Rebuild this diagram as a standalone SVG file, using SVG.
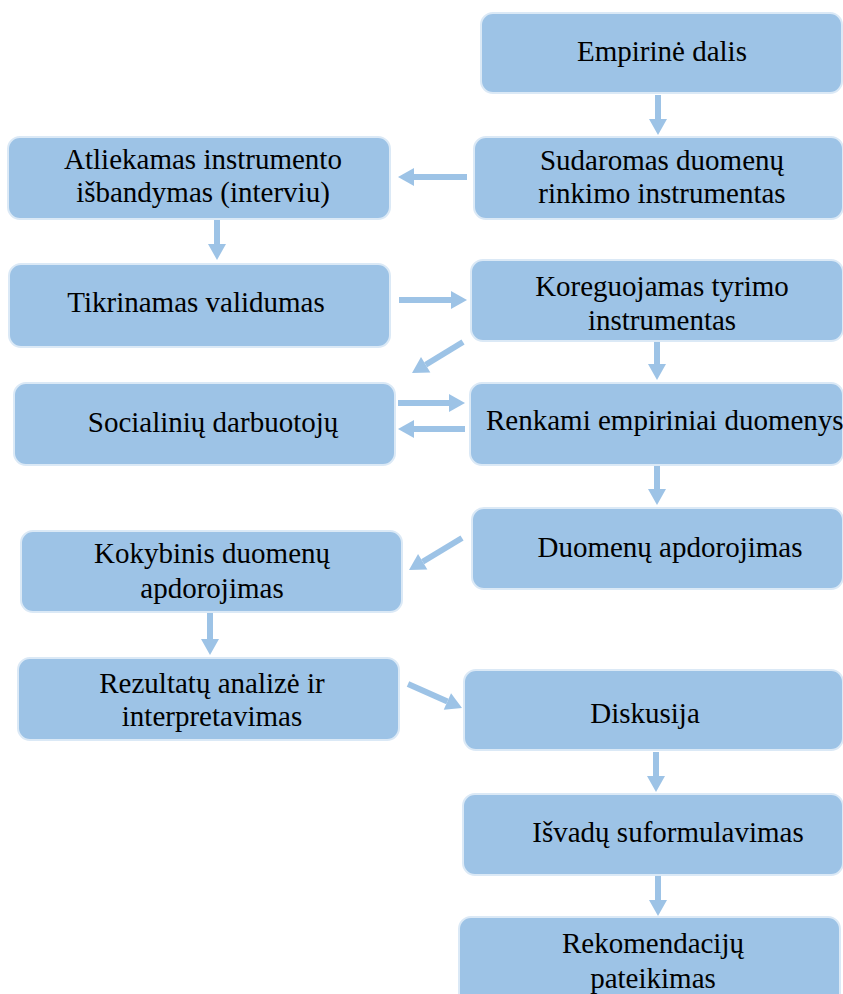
<svg xmlns="http://www.w3.org/2000/svg" width="843" height="994" viewBox="0 0 843 994">
  <style>
    .box { fill: #9dc3e6; stroke: #dbe9f6; stroke-width: 2; }
    .lbl { font-family: "Liberation Serif", "Times New Roman", serif; font-size: 29px; fill: #000; text-anchor: middle; }
    .start { text-anchor: start; }
    .conn { stroke: #9dc3e6; stroke-width: 6; fill: none; marker-end: url(#head); }
  </style>
  <defs>
    <marker id="head" markerUnits="userSpaceOnUse" markerWidth="17" markerHeight="18" refX="0" refY="9" orient="auto" overflow="visible">
      <path d="M0,0 L16,9 L0,18 Z" fill="#9dc3e6"/>
    </marker>
  </defs>
  <rect width="843" height="994" fill="#ffffff"/>

  <g id="connectors">
    <line class="conn" x1="658" y1="95" x2="658" y2="119"/>
    <line class="conn" x1="467" y1="177" x2="414" y2="177"/>
    <line class="conn" x1="217" y1="220" x2="217" y2="244"/>
    <line class="conn" x1="399" y1="300" x2="451" y2="300"/>
    <line class="conn" x1="463" y1="342" x2="425.7" y2="364.7"/>
    <line class="conn" x1="657" y1="342" x2="657" y2="364"/>
    <line class="conn" x1="398" y1="403" x2="449" y2="403"/>
    <line class="conn" x1="465" y1="429" x2="414" y2="429"/>
    <line class="conn" x1="657" y1="466" x2="657" y2="489"/>
    <line class="conn" x1="462" y1="538" x2="422.7" y2="561.7"/>
    <line class="conn" x1="210" y1="613" x2="210" y2="639"/>
    <line class="conn" x1="408" y1="684" x2="447.4" y2="701.5"/>
    <line class="conn" x1="656" y1="752" x2="656" y2="776"/>
    <line class="conn" x1="658" y1="876" x2="658" y2="900"/>
  </g>

  <g id="empirine-dalis">
    <rect class="box" x="481" y="13" width="361" height="80" rx="12"/>
    <text class="lbl" x="662" y="61">Empirinė dalis</text>
  </g>
  <g id="sudaromas">
    <rect class="box" x="474" y="137" width="369" height="82" rx="12"/>
    <text class="lbl" x="662" y="170">Sudaromas duomenų</text>
    <text class="lbl" x="662" y="203">rinkimo instrumentas</text>
  </g>
  <g id="atliekamas">
    <rect class="box" x="8" y="137" width="382" height="82" rx="12"/>
    <text class="lbl" x="203" y="169">Atliekamas instrumento</text>
    <text class="lbl" x="203" y="202">išbandymas (interviu)</text>
  </g>
  <g id="tikrinamas">
    <rect class="box" x="9" y="264" width="381" height="83" rx="12"/>
    <text class="lbl" x="196" y="312">Tikrinamas validumas</text>
  </g>
  <g id="koreguojamas">
    <rect class="box" x="471" y="260" width="372" height="81" rx="12"/>
    <text class="lbl" x="662" y="296">Koreguojamas tyrimo</text>
    <text class="lbl" x="662" y="330">instrumentas</text>
  </g>
  <g id="socialiniu">
    <rect class="box" x="14" y="383" width="381" height="82" rx="12"/>
    <text class="lbl" x="213" y="432">Socialinių darbuotojų</text>
  </g>
  <g id="renkami">
    <rect class="box" x="470" y="383" width="373" height="82" rx="12"/>
    <text class="lbl start" x="486" y="430">Renkami empiriniai duomenys</text>
  </g>
  <g id="duomenu-apdorojimas">
    <rect class="box" x="472" y="508" width="371" height="81" rx="12"/>
    <text class="lbl" x="670" y="557">Duomenų apdorojimas</text>
  </g>
  <g id="kokybinis">
    <rect class="box" x="21" y="531" width="381" height="81" rx="12"/>
    <text class="lbl" x="212" y="563">Kokybinis duomenų</text>
    <text class="lbl" x="212" y="598">apdorojimas</text>
  </g>
  <g id="rezultatu">
    <rect class="box" x="18" y="658" width="381" height="82" rx="12"/>
    <text class="lbl" x="212" y="693">Rezultatų analizė ir</text>
    <text class="lbl" x="212" y="726">interpretavimas</text>
  </g>
  <g id="diskusija">
    <rect class="box" x="464" y="670" width="379" height="80" rx="12"/>
    <text class="lbl" x="645" y="723">Diskusija</text>
  </g>
  <g id="isvadu">
    <rect class="box" x="463" y="794" width="380" height="81" rx="12"/>
    <text class="lbl" x="668" y="842">Išvadų suformulavimas</text>
  </g>
  <g id="rekomendaciju">
    <rect class="box" x="459" y="917" width="381" height="90" rx="12"/>
    <text class="lbl" x="653" y="953">Rekomendacijų</text>
    <text class="lbl" x="653" y="988">pateikimas</text>
  </g>
</svg>
